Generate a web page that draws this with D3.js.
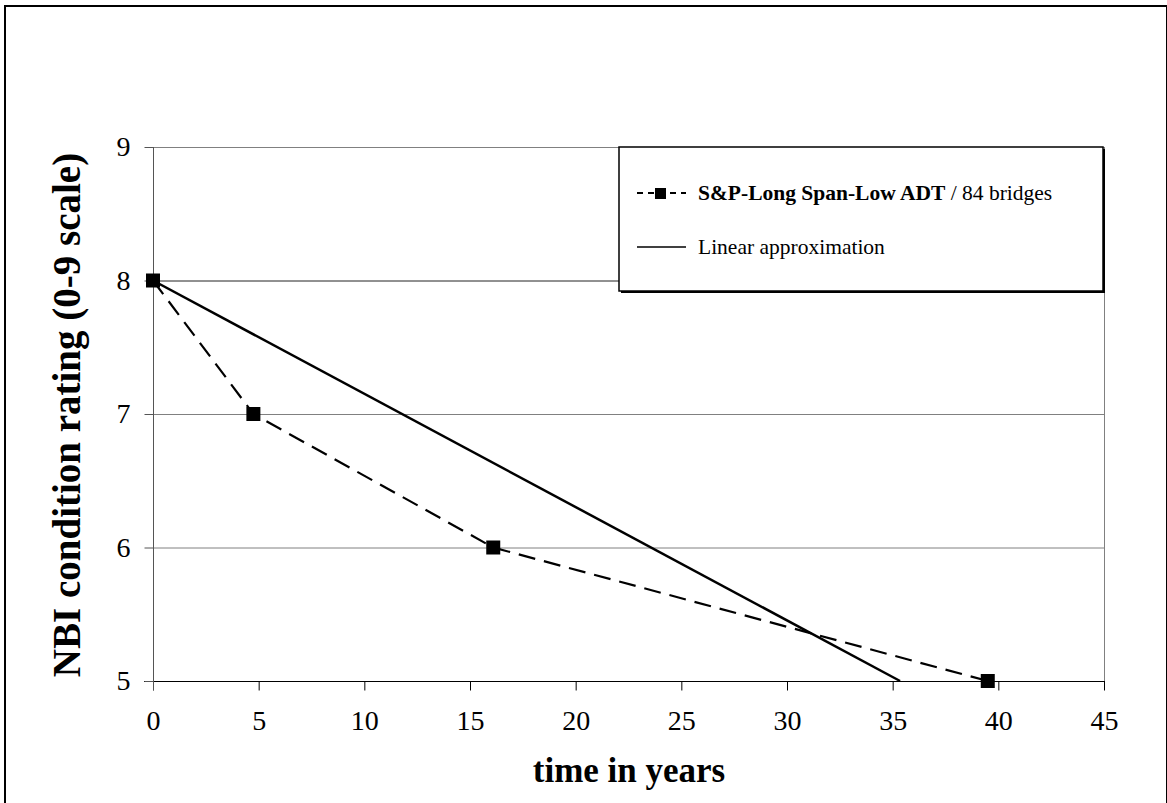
<!DOCTYPE html>
<html><head><meta charset="utf-8">
<script src="https://cdn.jsdelivr.net/npm/d3@7"></script>
<style>body{margin:0;background:#fff}svg{display:block}</style>
</head><body>
<script>
const seriesYears = [0, 4.75, 16.1, 39.5];
const seriesRatings = [8, 7, 6, 5];
const linearYears = [0, 35.35];
const linearRatings = [8, 5];
const xTicks = [0, 5, 10, 15, 20, 25, 30, 35, 40, 45];
const yTicks = [5, 6, 7, 8, 9];
const seriesName = "S&P-Long Span-Low ADT";
const seriesSuffix = " / 84 bridges";
const linearName = "Linear approximation";

const W = 1167, H = 803;
const svg = d3.select("body").append("svg").attr("width", W).attr("height", H);
const font = "'Liberation Serif','Times New Roman',serif";

svg.append("rect").attr("x", 5).attr("y", 6).attr("width", 1162).attr("height", 800)
  .attr("fill", "none").attr("stroke", "#000").attr("stroke-width", 2);

const x = d3.scaleLinear().domain([0, 45]).range([153, 1104]);
const y = d3.scaleLinear().domain([5, 9]).range([681, 147]);

// gridlines
svg.append("g").selectAll("line").data(yTicks.filter(d => d > 5)).join("line")
  .attr("x1", x(0)).attr("x2", x(45)).attr("y1", d => y(d) + 0.5).attr("y2", d => y(d) + 0.5)
  .attr("stroke", d => d === 8 ? "#222" : "#808080").attr("stroke-width", 1);
// right border
svg.append("line").attr("x1", x(45) + 0.5).attr("x2", x(45) + 0.5).attr("y1", y(9)).attr("y2", y(5))
  .attr("stroke", "#808080");

// axes
const xAxis = svg.append("g").attr("transform", `translate(0,${y(5) + 0.5})`)
  .call(d3.axisBottom(x).tickValues(xTicks).tickFormat(d3.format("d")).tickSize(9).tickPadding(20).tickSizeOuter(0));
xAxis.select(".domain").attr("stroke", "#000").attr("d", `M${x(0) - 9},0H${x(45) + 1}`);
xAxis.selectAll("line").attr("stroke", "#000");
xAxis.selectAll("text").attr("font-family", font).attr("font-size", 28).attr("fill", "#000");

const yAxis = svg.append("g").attr("transform", `translate(${x(0) + 0.5},0)`)
  .call(d3.axisLeft(y).tickValues(yTicks).tickFormat(d3.format("d")).tickSize(9).tickPadding(14).tickSizeOuter(0));
yAxis.select(".domain").attr("stroke", "#555").attr("d", `M0,${y(9)}V${y(5) + 9}`);
yAxis.selectAll("line").attr("stroke", "#555");
yAxis.selectAll("text").attr("font-family", font).attr("font-size", 28).attr("fill", "#000");

// linear line
const line = d3.line().x(d => x(d[0])).y(d => y(d[1]));
svg.append("path").datum(linearYears.map((v, i) => [v, linearRatings[i]]))
  .attr("d", line).attr("fill", "none").attr("stroke", "#000").attr("stroke-width", 2.5);

// series dashed
const pts = seriesYears.map((v, i) => [v, seriesRatings[i]]);
svg.append("path").datum(pts).attr("d", line).attr("fill", "none")
  .attr("stroke", "#000").attr("stroke-width", 2.2).attr("stroke-dasharray", "17,9");
svg.append("g").selectAll("rect").data(pts).join("rect")
  .attr("x", d => x(d[0]) - 7).attr("y", d => y(d[1]) - 7).attr("width", 14).attr("height", 14)
  .attr("fill", "#000");

// legend
const lg = svg.append("g");
lg.append("rect").attr("x", 621).attr("y", 149).attr("width", 484).attr("height", 144).attr("fill", "#000");
lg.append("rect").attr("x", 619).attr("y", 147).attr("width", 484).attr("height", 144)
  .attr("fill", "#fff").attr("stroke", "#000").attr("stroke-width", 1.5);
lg.append("line").attr("x1", 637).attr("x2", 686).attr("y1", 193).attr("y2", 193)
  .attr("stroke", "#000").attr("stroke-width", 2).attr("stroke-dasharray", "6,5");
lg.append("rect").attr("x", 655).attr("y", 188).attr("width", 11).attr("height", 11).attr("fill", "#000");
const t1 = lg.append("text").attr("x", 698).attr("y", 200).attr("font-family", font).attr("font-size", 21.5);
t1.append("tspan").attr("font-weight", "bold").text(seriesName);
t1.append("tspan").text(seriesSuffix);
lg.append("line").attr("x1", 637).attr("x2", 686).attr("y1", 247).attr("y2", 247)
  .attr("stroke", "#000").attr("stroke-width", 1.5);
lg.append("text").attr("x", 698).attr("y", 254).attr("font-family", font).attr("font-size", 21.5).text(linearName);

// axis titles
svg.append("text").attr("x", 629).attr("y", 782).attr("text-anchor", "middle")
  .attr("font-family", font).attr("font-size", 35).attr("font-weight", "bold").text("time in years");
svg.append("text").attr("transform", "translate(80,415) rotate(-90)").attr("text-anchor", "middle")
  .attr("font-family", font).attr("font-size", 39).attr("font-weight", "bold").text("NBI condition rating (0-9 scale)");
</script>
</body></html>
